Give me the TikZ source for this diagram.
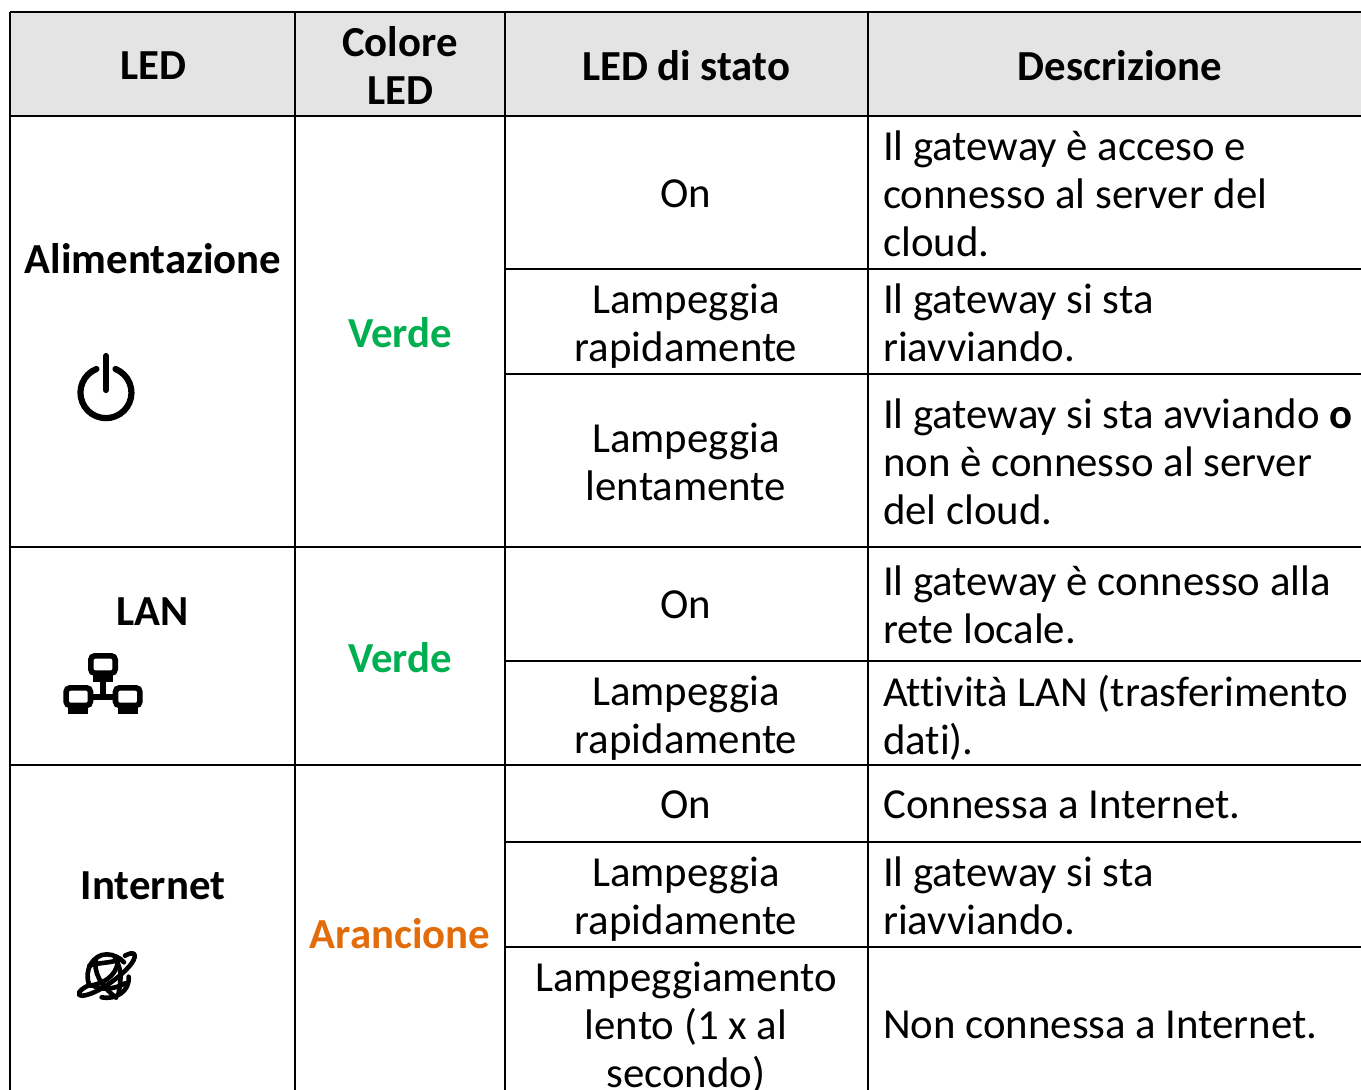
\documentclass[tikz,border=0pt]{standalone}
\usepackage{fontspec}
\setmainfont{Carlito}[Ligatures=NoCommon]
\definecolor{hdr}{HTML}{E4E4E4}
\definecolor{ledgreen}{HTML}{00B050}
\definecolor{ledorange}{HTML}{E36C0A}
\tikzset{
  cell/.style={inner sep=0pt,font=\fontsize{42.8}{48}\selectfont,text depth=0pt,yshift=0.5pt},
  ctr/.style={cell,align=center},
  lft/.style={cell,align=left,anchor=west},
  head/.style={ctr,font=\fontsize{42.8}{48}\selectfont\bfseries},
  grid/.style={line width=2.2pt,black},
  icon/.style={line width=6.2pt,black},
}
\begin{document}
\begin{tikzpicture}[x=1pt,y=-1pt]
\useasboundingbox (0,0) rectangle (1361,1090);
\fill[white] (0,0) rectangle (1361,1090);
\fill[hdr] (10,12) rectangle (1361,116);
% grid
\draw[grid] (10,12) -- (1361,12);
\draw[grid] (10,116) -- (1361,116);
\draw[grid] (505,269) -- (1361,269);
\draw[grid] (505,374) -- (1361,374);
\draw[grid] (10,547) -- (1361,547);
\draw[grid] (505,661) -- (1361,661);
\draw[grid] (10,765) -- (1361,765);
\draw[grid] (505,842) -- (1361,842);
\draw[grid] (505,947) -- (1361,947);
\draw[grid] (10,12) -- (10,1090);
\draw[grid] (295,12) -- (295,1090);
\draw[grid] (505,12) -- (505,1090);
\draw[grid] (868,12) -- (868,1090);
% header
\node[head] (h1) at (153,66) {LED};
\node[head] (h2) at (400,66) {Colore\\LED};
\node[head] (h3) at (686,66) {LED di stato};
\node[head] (h4) at (1120,66) {Descrizione};
% column 1
\node[head] (c1a) at (153,259) {Alimentazione};
\node[head] (c1b) at (153,612) {LAN};
\node[head] (c1c) at (153,886) {Internet};
% column 2
\node[head,text=ledgreen] (c2a) at (400,333) {Verde};
\node[head,text=ledgreen] (c2b) at (400,658) {Verde};
\node[head,text=ledorange] (c2c) at (400,934) {Arancione};
% column 3
\node[ctr] (s1) at (686,194) {On};
\node[ctr] (s2) at (686,323) {Lampeggia\\rapidamente};
\node[ctr] (s3) at (686,462) {Lampeggia\\lentamente};
\node[ctr] (s4) at (686,605) {On};
\node[ctr] (s5) at (686,715) {Lampeggia\\rapidamente};
\node[ctr] (s6) at (686,805) {On};
\node[ctr] (s7) at (686,896) {Lampeggia\\rapidamente};
\node[ctr] (s8) at (686,1025) {Lampeggiamento\\lento (1 x al\\secondo)};
% column 4
\node[lft] (d1) at (883,194) {Il gateway è acceso e\\connesso al server del\\cloud.};
\node[lft] (d2) at (883,323) {Il gateway si sta\\riavviando.};
\node[lft] (d3) at (883,462) {Il gateway si sta avviando \textbf{o}\\non è connesso al server\\del cloud.};
\node[lft] (d4) at (883,605) {Il gateway è connesso alla\\rete locale.};
\node[lft] (d5) at (883,715) {Attività LAN (trasferimento\\dati).};
\node[lft] (d6) at (883,805) {Connessa a Internet.};
\node[lft] (d7) at (883,896) {Il gateway si sta\\riavviando.};
\node[lft] (d8) at (883,1025) {Non connessa a Internet.};
% power icon
\draw[icon,line cap=round] (106,356) -- (106,390);
\draw[icon,line cap=round] (96.4,369) arc[start angle=248,end angle=-68,radius=25.5];
% lan icon
\begin{scope}[line width=5.6pt,rounded corners=4pt]
\draw (90.8,655.8) rectangle (115.2,673.2);
\draw (66.1,687.8) rectangle (90.5,705.5);
\draw (115.5,687.8) rectangle (139.9,705.5);
\end{scope}
\fill (93,675) rectangle (113,681.5);
\fill (68,707) rectangle (88,714);
\fill (118,707) rectangle (138,714);
\draw[line width=5.6pt] (103,680) -- (103,697);
\draw[line width=5.6pt] (92,697) -- (114,697);
% globe icon
\begin{scope}[shift={(50,935)},scale=1/3,line width=4.6pt,line cap=round]
\draw (118,150) .. controls (100,105) and (130,58) .. (170,58) .. controls (190,58) and (210,68) .. (222,82);
\draw (118,150) .. controls (85,165) and (78,182) .. (98,182) .. controls (140,178) and (215,125) .. (245,85) .. controls (265,55) and (250,48) .. (225,62);
\draw (155,187) .. controls (195,195) and (240,170) .. (236,125);
\draw (118,92) .. controls (145,82) and (185,85) .. (212,72);
\draw (138,72) .. controls (130,110) and (150,150) .. (198,188);
\draw (205,72) .. controls (202,110) and (180,140) .. (122,152);
\draw (125,150) .. controls (150,165) and (190,165) .. (225,145);
\draw (195,70) .. controls (215,100) and (215,130) .. (205,178);
\end{scope}
\end{tikzpicture}
\end{document}
